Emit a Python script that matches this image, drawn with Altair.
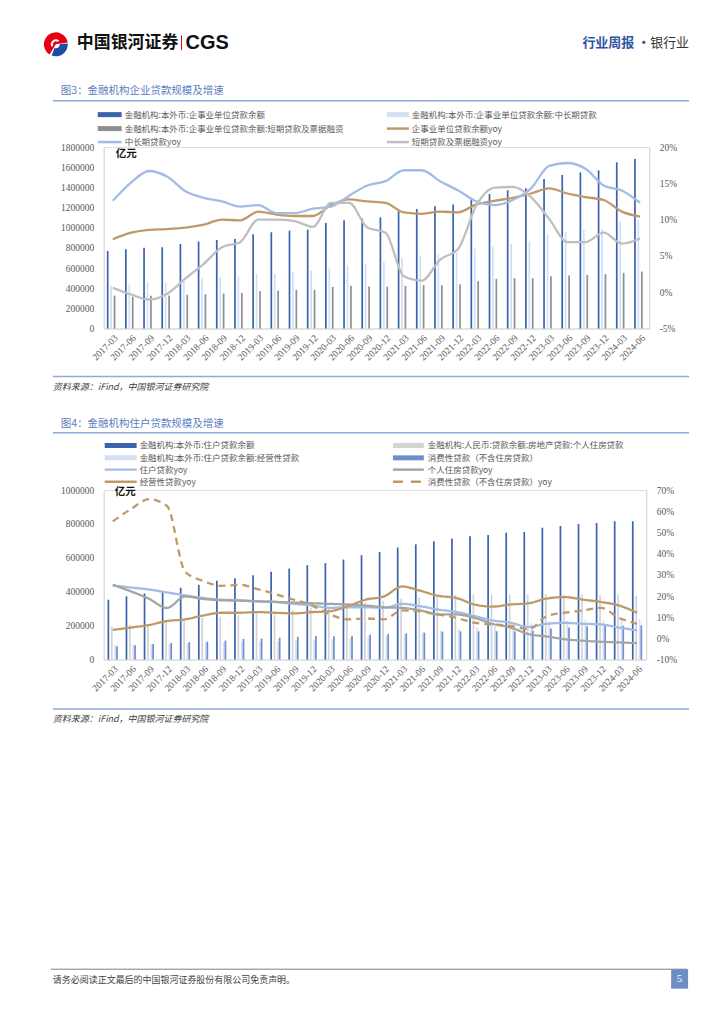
import altair as alt
import pandas as pd

CJK = "Noto Sans CJK SC"
SERIF = "Liberation Serif"

# ---------------- data ----------------
dates = ["2017-03", "2017-06", "2017-09", "2017-12", "2018-03", "2018-06", "2018-09", "2018-12",
         "2019-03", "2019-06", "2019-09", "2019-12", "2020-03", "2020-06", "2020-09", "2020-12",
         "2021-03", "2021-06", "2021-09", "2021-12", "2022-03", "2022-06", "2022-09", "2022-12",
         "2023-03", "2023-06", "2023-09", "2023-12", "2024-03", "2024-06"]

# Chart 1 (亿元 / %)
corp_total = [770000, 786000, 800000, 806000, 839000, 862000, 879000, 889000, 935000, 955000,
              971000, 981000, 1047000, 1073000, 1090000, 1103000, 1163000, 1186000, 1212000, 1229000,
              1295000, 1334000, 1371000, 1391000, 1483000, 1523000, 1549000, 1569000, 1648000, 1681000]
corp_mid_long = [423000, 436000, 452000, 456000, 479000, 495000, 509000, 515000, 542000, 545000,
                 565000, 575000, 604000, 624000, 644000, 664000, 704000, 723000, 740000, 753000,
                 793000, 813000, 839000, 862000, 928000, 958000, 978000, 988000, 1060000, 1077000]
corp_short_bill = [327000, 314000, 324000, 327000, 334000, 340000, 347000, 353000, 370000, 377000,
                   383000, 383000, 413000, 423000, 416000, 416000, 423000, 429000, 429000, 439000,
                   469000, 492000, 499000, 499000, 519000, 525000, 532000, 538000, 552000, 565000]
corp_total_yoy = [7.3, 8.2, 8.6, 8.7, 8.9, 9.3, 10.0, 9.9, 11.1, 10.7, 10.5, 10.5, 12.0, 12.8, 12.5,
                  12.3, 11.0, 10.8, 11.1, 11.0, 12.1, 12.6, 13.0, 13.6, 14.3, 13.6, 13.1, 12.7, 11.1, 10.4]
mid_long_yoy = [12.6, 15.1, 16.7, 15.9, 13.9, 13.0, 12.5, 11.8, 12.0, 10.9, 10.9, 11.5, 11.8, 13.3, 14.7,
                15.3, 16.8, 16.8, 15.3, 14.0, 12.5, 12.0, 12.7, 14.3, 17.4, 17.8, 17.0, 14.7, 14.0, 12.3]
short_bill_yoy = [0.6, -0.3, -1.0, -0.2, 1.9, 3.9, 6.2, 6.9, 10.0, 10.0, 9.8, 9.0, 12.3, 12.3, 8.9,
                  8.2, 2.2, 1.6, 4.5, 6.0, 12.0, 14.4, 14.5, 13.1, 10.1, 6.9, 6.9, 8.2, 6.7, 7.4]

bar1_names = ["金融机构:本外币:企事业单位贷款余额",
              "金融机构:本外币:企事业单位贷款余额:中长期贷款",
              "金融机构:本外币:企事业单位贷款余额:短期贷款及票据融资"]
line1_names = ["企事业单位贷款余额yoy", "中长期贷款yoy", "短期贷款及票据融资yoy"]

# Chart 2 (亿元 / %)
hh_total = [353000, 373000, 390000, 400000, 424000, 441000, 465000, 480000, 498000, 518000,
            537000, 557000, 569000, 590000, 616000, 635000, 661000, 680000, 698000, 714000,
            727000, 735000, 749000, 753000, 778000, 788000, 800000, 806000, 816000, 816000]
hh_mortgage = [196000, 204000, 210000, 220000, 233000, 245000, 253000, 263000, 273000, 278000,
               292000, 304000, 312000, 324000, 337000, 347000, 359000, 367000, 378000, 382000,
               386000, 386000, 386000, 386000, 386000, 384000, 384000, 380000, 382000, 376000]
hh_business = [86000, 88000, 92000, 92000, 96000, 100000, 102000, 104000, 108000, 110000,
               114000, 114000, 120000, 127000, 136000, 140000, 149000, 161000, 171000, 180000,
               190000, 200000, 210000, 214000, 224000, 229000, 233000, 233000, 235000, 239000]
hh_consumer = [78000, 84000, 92000, 98000, 102000, 106000, 112000, 122000, 124000, 129000,
               135000, 139000, 137000, 141000, 147000, 151000, 155000, 159000, 165000, 167000,
               167000, 167000, 167000, 171000, 184000, 190000, 196000, 198000, 200000, 202000]
hh_total_yoy = [25.0, 24.0, 23.1, 21.7, 20.3, 19.1, 18.3, 18.0, 17.5, 17.2, 16.3, 15.6, 14.4, 14.7, 14.7,
                14.4, 16.3, 15.2, 13.6, 12.5, 10.5, 8.5, 7.4, 5.4, 6.9, 7.3, 6.9, 6.6, 5.1, 3.8]
mortgage_yoy = [25.3, 22.2, 18.7, 14.4, 19.8, 18.6, 18.0, 17.8, 17.5, 17.2, 16.9, 16.6, 16.3, 16.0, 15.5,
                14.7, 14.4, 13.2, 11.3, 11.3, 9.7, 6.9, 5.1, 2.0, 0.9, -0.4, -1.1, -1.6, -1.9, -2.2]
business_yoy = [4.0, 5.1, 6.3, 8.2, 9.0, 10.8, 12.1, 12.1, 12.4, 12.1, 11.8, 12.4, 12.8, 15.2, 18.3,
                19.8, 24.5, 22.5, 20.1, 19.1, 16.0, 15.0, 16.0, 16.6, 18.8, 19.5, 18.3, 17.2, 15.5, 12.1]
consumer_yoy = [55.2, 61.0, 65.7, 62.5, 31.5, 27.1, 24.8, 25.3, 23.3, 20.9, 18.3, 15.6, 11.3, 9.0, 9.4,
                9.0, 13.2, 12.8, 11.3, 9.7, 7.4, 6.6, 5.9, 4.3, 10.5, 12.1, 13.2, 14.4, 9.7, 6.9]

bar2_names = ["金融机构:本外币:住户贷款余额",
              "金融机构:人民币:贷款余额:房地产贷款:个人住房贷款",
              "金融机构:本外币:住户贷款余额:经营性贷款",
              "消费性贷款（不含住房贷款）"]
line2_names = ["住户贷款yoy", "个人住房贷款yoy", "经营性贷款yoy", "消费性贷款（不含住房贷款）yoy"]

# ---------------- styles ----------------
DARK = "#3B64AD"
LIGHT_BAR = "#D3DFF2"
GRAY_BAR1 = "#8F8F8F"
TAN = "#BF9A68"
LIGHT_LINE = "#A3BCE6"
GRAY_LINE1 = "#BFBFBF"
GRAY_BAR2 = "#D4D4D4"
MID_BLUE = "#6F8ECB"
GRAY_LINE2 = "#A5A5A5"
TITLE_C = "#5A7CBD"
SEP_C = "#8EA9DB"
AX_C = "#595959"

bar1_colors = [DARK, LIGHT_BAR, GRAY_BAR1]
line1_colors = [TAN, LIGHT_LINE, GRAY_LINE1]
bar2_colors = [DARK, GRAY_BAR2, LIGHT_BAR, MID_BLUE]
line2_colors = [LIGHT_LINE, GRAY_LINE2, TAN, TAN]


def long_df(names, arrays):
    rows = []
    for n, arr in zip(names, arrays):
        for d, v in zip(dates, arr):
            rows.append({"date": d, "series": n, "value": v})
    return pd.DataFrame(rows)


df1b = long_df(bar1_names, [corp_total, corp_mid_long, corp_short_bill])
df1l = long_df(line1_names, [corp_total_yoy, mid_long_yoy, short_bill_yoy])
df2b = long_df(bar2_names, [hh_total, hh_mortgage, hh_business, hh_consumer])
df2l = long_df(line2_names, [hh_total_yoy, mortgage_yoy, business_yoy, consumer_yoy])

one = alt.Data(values=[{"a": 1}])

# panel geometry (page coordinates of plot areas)
O1 = (103, 145)
W1, H1 = 547, 182
O2 = (103, 489)
W2, H2 = 544, 170


def text(x, y, s, O, size=8.5, color=AX_C, font=CJK, weight="normal", align="left", style="normal"):
    return alt.Chart(one).mark_text(align=align, baseline="middle", fontSize=size, font=font,
                                    color=color, fontWeight=weight, fontStyle=style).encode(
        x=alt.value(x - O[0]), y=alt.value(y - O[1]), text=alt.value(s))


def hline(x1, x2, y, O, color, width, dash=None):
    kw = dict(color=color, strokeWidth=width)
    if dash:
        kw["strokeDash"] = dash
    return alt.Chart(one).mark_rule(**kw).encode(
        x=alt.value(x1 - O[0]), x2=alt.value(x2 - O[0]), y=alt.value(y - O[1]))


def vline(x, y1, y2, O, color, width):
    return alt.Chart(one).mark_rule(color=color, strokeWidth=width).encode(
        x=alt.value(x - O[0]), y=alt.value(y1 - O[1]), y2=alt.value(y2 - O[1]))


def rect(x1, x2, y1, y2, O, color, opacity=1):
    return alt.Chart(one).mark_rect(color=color, opacity=opacity).encode(
        x=alt.value(x1 - O[0]), x2=alt.value(x2 - O[0]),
        y=alt.value(y1 - O[1]), y2=alt.value(y2 - O[1]))


def arc(cx, cy, r0, r1, t0, t1, O, color):
    return alt.Chart(one).mark_arc(color=color, radius=r1, innerRadius=r0).encode(
        x=alt.value(cx - O[0]), y=alt.value(cy - O[1]),
        theta=alt.value(t0), theta2=alt.value(t1))


def axis_x():
    return alt.Axis(title=None, labelAngle=-45, labelFont=SERIF, labelFontSize=9.5, labelColor=AX_C,
                    ticks=False, domainColor="#D9D9D9", labelPadding=4, grid=False)


def axis_left(vals):
    return alt.Axis(title=None, values=vals, format="d", labelFont=SERIF, labelFontSize=9.5,
                    labelColor=AX_C, ticks=False, grid=False, domainColor="#D9D9D9", labelPadding=10)


def axis_right(vals):
    return alt.Axis(title=None, orient="right", values=vals, labelExpr="datum.value + '%'",
                    labelFont=SERIF, labelFontSize=9.5, labelColor=AX_C, ticks=False, grid=False,
                    domainColor="#D9D9D9", labelPadding=10)


# ---------------- panel 1 ----------------
x1 = alt.X("date:N", sort=dates, scale=alt.Scale(paddingInner=0.34, paddingOuter=0.17), axis=axis_x())
bars1 = alt.Chart(df1b).mark_bar().encode(
    x=x1,
    xOffset=alt.XOffset("series:N", sort=bar1_names, scale=alt.Scale(paddingInner=0, paddingOuter=0)),
    y=alt.Y("value:Q", scale=alt.Scale(domain=[0, 1800000], nice=False),
            axis=axis_left(list(range(0, 1800001, 200000)))),
    color=alt.Color("series:N", scale=alt.Scale(domain=bar1_names, range=bar1_colors), legend=None),
)
lines1 = alt.Chart(df1l).mark_line(strokeWidth=2.3, interpolate="monotone").encode(
    x=x1,
    y=alt.Y("value:Q", scale=alt.Scale(domain=[-5, 20], nice=False), axis=axis_right([-5, 0, 5, 10, 15, 20])),
    color=alt.Color("series:N", scale=alt.Scale(domain=line1_names, range=line1_colors), legend=None),
)

# invisible full-page frame: pins the page origin for the layout
bg = rect(8, 716, 8, 1016, O1, "white", opacity=0)

header = [
    arc(55, 42, 0, 12, 3.7, 7.7, O1, "#E60012"),
    arc(55, 42, 4, 12, 1.5, 3.5, O1, "#1F4E9E"),
    arc(55, 42, 3, 5, 4.2, 7.0, O1, "white"),
    text(76, 41, "中国银河证券", O1, size=17, color="#111111", weight="bold"),
    vline(181, 33, 48, O1, "#E60012", 1),
    text(185, 41, "CGS", O1, size=20, color="#111111", font="Liberation Sans", weight="bold"),
    text(583, 40.5, "行业周报 ·", O1, size=13, color="#2E54A1", weight="bold"),
    text(690, 40.5, "银行业", O1, size=13, color="#333333", align="right"),
]

deco1 = [
    text(60, 89, "图3：金融机构企业贷款规模及增速", O1, size=10.5, color=TITLE_C),
    hline(52, 690, 98.5, O1, SEP_C, 1.5),
    rect(97, 121, 110, 115, O1, DARK),
    text(124, 112.5, bar1_names[0], O1),
    rect(387, 409, 110, 115, O1, LIGHT_BAR),
    text(412, 112.5, bar1_names[1], O1),
    rect(97, 121, 124, 129, O1, GRAY_BAR1),
    text(124, 126.5, bar1_names[2], O1),
    hline(387, 409, 126.5, O1, TAN, 2.5),
    text(412, 126.5, line1_names[0], O1),
    hline(97, 121, 140, O1, LIGHT_LINE, 2.5),
    text(124, 140, line1_names[1], O1),
    hline(387, 409, 140, O1, GRAY_LINE1, 2.5),
    text(412, 140, line1_names[2], O1),
    text(115, 151.5, "亿元", O1, size=10.5, color="#111111", weight="bold"),
    hline(52, 690, 375, O1, SEP_C, 1.5),
    text(52, 386, "资料来源：iFind，中国银河证券研究院", O1, size=9, color="#404040", style="italic"),
]

panel1 = alt.layer(bg, *header, bars1, lines1, *deco1).resolve_scale(
    y="independent", color="independent").properties(width=W1, height=H1)

# ---------------- panel 2 ----------------
x2 = alt.X("date:N", sort=dates, scale=alt.Scale(paddingInner=0.23, paddingOuter=0.115), axis=axis_x())
bars2 = alt.Chart(df2b).mark_bar().encode(
    x=x2,
    xOffset=alt.XOffset("series:N", sort=bar2_names, scale=alt.Scale(paddingInner=0, paddingOuter=0)),
    y=alt.Y("value:Q", scale=alt.Scale(domain=[0, 1000000], nice=False),
            axis=axis_left(list(range(0, 1000001, 200000)))),
    color=alt.Color("series:N", scale=alt.Scale(domain=bar2_names, range=bar2_colors), legend=None),
)
lines2 = alt.Chart(df2l).mark_line(strokeWidth=2.3, interpolate="monotone").encode(
    x=x2,
    y=alt.Y("value:Q", scale=alt.Scale(domain=[-10, 70], nice=False),
            axis=axis_right([-10, 0, 10, 20, 30, 40, 50, 60, 70])),
    color=alt.Color("series:N", scale=alt.Scale(domain=line2_names, range=line2_colors), legend=None),
    strokeDash=alt.StrokeDash("series:N", scale=alt.Scale(domain=line2_names,
                                                          range=[[1, 0], [1, 0], [1, 0], [7, 5]]),
                              legend=None),
)

deco2 = [
    text(60, 423, "图4：金融机构住户贷款规模及增速", O2, size=10.5, color=TITLE_C),
    hline(52, 690, 431.5, O2, SEP_C, 1.5),
    rect(104, 136, 441.8, 446.8, O2, DARK),
    text(139, 444.3, bar2_names[0], O2),
    rect(393, 424, 441.8, 446.8, O2, GRAY_BAR2),
    text(428, 444.3, bar2_names[1], O2),
    rect(104, 136, 454.2, 459.2, O2, LIGHT_BAR),
    text(139, 456.7, bar2_names[2], O2),
    rect(393, 424, 454.2, 459.2, O2, MID_BLUE),
    text(428, 456.7, bar2_names[3], O2),
    hline(104, 136, 468.5, O2, LIGHT_LINE, 2.5),
    text(139, 468.5, line2_names[0], O2),
    hline(393, 424, 468.5, O2, GRAY_LINE2, 2.5),
    text(428, 468.5, line2_names[1], O2),
    hline(104, 136, 480.7, O2, TAN, 2.5),
    text(139, 480.7, line2_names[2], O2),
    hline(393, 424, 480.7, O2, TAN, 2.5, dash=[10, 8]),
    text(428, 480.7, line2_names[3], O2),
    text(114, 490.5, "亿元", O2, size=10.5, color="#111111", weight="bold"),
    hline(52, 690, 708.5, O2, SEP_C, 1.5),
    text(52, 718.5, "资料来源：iFind，中国银河证券研究院", O2, size=9, color="#404040", style="italic"),
    # footer
    hline(50, 688, 969.5, O2, "#7F7F7F", 1),
    text(52, 980, "请务必阅读正文最后的中国银河证券股份有限公司免责声明。", O2, size=9, color="#404040"),
    rect(672, 689, 969.5, 989, O2, "#6F8DC5"),
    text(680.5, 979.5, "5", O2, size=11, color="white", font=SERIF, align="center"),
]

panel2 = alt.layer(bars2, lines2, *deco2).resolve_scale(
    y="independent", color="independent").properties(width=W2, height=H2)

chart = alt.vconcat(panel1, panel2, spacing=(O2[1] - O1[1] - H1), bounds="flush").properties(
    padding=0
).configure_view(stroke=None).configure(background="white")

chart.save("out.html", embed_options={"renderer": "svg", "actions": False})
